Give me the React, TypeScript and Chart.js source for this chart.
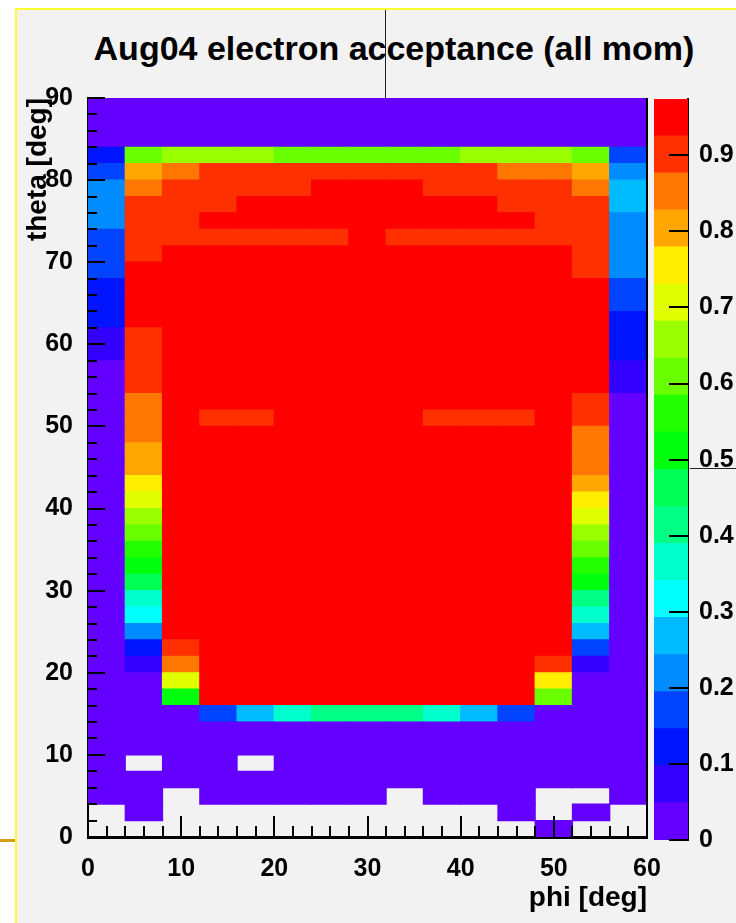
import { useEffect, useRef } from 'react';
import { Chart, registerables } from 'chart.js';

Chart.register(...registerables);

// ---- axes / binning ----
const phiCenters = [2, 6, 10, 14, 18, 22, 26, 30, 34, 38, 42, 46, 50, 54, 58];
const thetaBinWidth = 2;
const phiTickStep = 10;
const thetaTickStep = 10;
const zTickStep = 0.1;
const Z_MAX = 0.974;
const N_CONTOURS = 20;

// acceptance[r][c]: theta bin r (0-2, 2-4, ... 88-90), phi bin c (0-4 ... 56-60); 0 = empty bin
const acceptance: number[][] = [
  /* 0-2 */ [0, 0, 0, 0, 0, 0, 0, 0, 0, 0, 0, 0, 0.02, 0, 0],
  /* 2-4 */ [0, 0.02, 0, 0, 0, 0, 0, 0, 0, 0, 0, 0.02, 0, 0.02, 0],
  /* 4-6 */ [0.02, 0.02, 0, 0.02, 0.02, 0.02, 0.02, 0.02, 0, 0.02, 0.02, 0.02, 0, 0, 0.02],
  /* 6-8 */ [0.02, 0.02, 0.02, 0.02, 0.02, 0.02, 0.02, 0.02, 0.02, 0.02, 0.02, 0.02, 0.02, 0.02, 0.02],
  /* 8-10 */ [0.02, 0, 0.02, 0.02, 0, 0.02, 0.02, 0.02, 0.02, 0.02, 0.02, 0.02, 0.02, 0.02, 0.02],
  /* 10-12 */ [0.02, 0.02, 0.02, 0.02, 0.02, 0.02, 0.02, 0.02, 0.02, 0.02, 0.02, 0.02, 0.02, 0.02, 0.02],
  /* 12-14 */ [0.02, 0.02, 0.02, 0.02, 0.02, 0.02, 0.02, 0.02, 0.02, 0.02, 0.02, 0.02, 0.02, 0.02, 0.02],
  /* 14-16 */ [0.02, 0.02, 0.02, 0.17, 0.27, 0.37, 0.41, 0.41, 0.41, 0.37, 0.27, 0.17, 0.02, 0.02, 0.02],
  /* 16-18 */ [0.02, 0.02, 0.51, 0.95, 0.95, 0.95, 0.95, 0.95, 0.95, 0.95, 0.95, 0.95, 0.61, 0.02, 0.02],
  /* 18-20 */ [0.02, 0.02, 0.71, 0.95, 0.95, 0.95, 0.95, 0.95, 0.95, 0.95, 0.95, 0.95, 0.75, 0.02, 0.02],
  /* 20-22 */ [0.02, 0.07, 0.85, 0.95, 0.95, 0.95, 0.95, 0.95, 0.95, 0.95, 0.95, 0.95, 0.9, 0.07, 0.02],
  /* 22-24 */ [0.02, 0.12, 0.9, 0.95, 0.95, 0.95, 0.95, 0.95, 0.95, 0.95, 0.95, 0.95, 0.95, 0.17, 0.02],
  /* 24-26 */ [0.02, 0.22, 0.95, 0.95, 0.95, 0.95, 0.95, 0.95, 0.95, 0.95, 0.95, 0.95, 0.95, 0.27, 0.02],
  /* 26-28 */ [0.02, 0.32, 0.95, 0.95, 0.95, 0.95, 0.95, 0.95, 0.95, 0.95, 0.95, 0.95, 0.95, 0.37, 0.02],
  /* 28-30 */ [0.02, 0.37, 0.95, 0.95, 0.95, 0.95, 0.95, 0.95, 0.95, 0.95, 0.95, 0.95, 0.95, 0.41, 0.02],
  /* 30-32 */ [0.02, 0.46, 0.95, 0.95, 0.95, 0.95, 0.95, 0.95, 0.95, 0.95, 0.95, 0.95, 0.95, 0.51, 0.02],
  /* 32-34 */ [0.02, 0.51, 0.95, 0.95, 0.95, 0.95, 0.95, 0.95, 0.95, 0.95, 0.95, 0.95, 0.95, 0.55, 0.02],
  /* 34-36 */ [0.02, 0.55, 0.95, 0.95, 0.95, 0.95, 0.95, 0.95, 0.95, 0.95, 0.95, 0.95, 0.95, 0.61, 0.02],
  /* 36-38 */ [0.02, 0.61, 0.95, 0.95, 0.95, 0.95, 0.95, 0.95, 0.95, 0.95, 0.95, 0.95, 0.95, 0.66, 0.02],
  /* 38-40 */ [0.02, 0.66, 0.95, 0.95, 0.95, 0.95, 0.95, 0.95, 0.95, 0.95, 0.95, 0.95, 0.95, 0.71, 0.02],
  /* 40-42 */ [0.02, 0.71, 0.95, 0.95, 0.95, 0.95, 0.95, 0.95, 0.95, 0.95, 0.95, 0.95, 0.95, 0.75, 0.02],
  /* 42-44 */ [0.02, 0.75, 0.95, 0.95, 0.95, 0.95, 0.95, 0.95, 0.95, 0.95, 0.95, 0.95, 0.95, 0.8, 0.02],
  /* 44-46 */ [0.02, 0.8, 0.95, 0.95, 0.95, 0.95, 0.95, 0.95, 0.95, 0.95, 0.95, 0.95, 0.95, 0.85, 0.02],
  /* 46-48 */ [0.02, 0.8, 0.95, 0.95, 0.95, 0.95, 0.95, 0.95, 0.95, 0.95, 0.95, 0.95, 0.95, 0.85, 0.02],
  /* 48-50 */ [0.02, 0.85, 0.95, 0.95, 0.95, 0.95, 0.95, 0.95, 0.95, 0.95, 0.95, 0.95, 0.95, 0.85, 0.02],
  /* 50-52 */ [0.02, 0.85, 0.95, 0.9, 0.9, 0.95, 0.95, 0.95, 0.95, 0.9, 0.9, 0.9, 0.95, 0.9, 0.02],
  /* 52-54 */ [0.02, 0.85, 0.95, 0.95, 0.95, 0.95, 0.95, 0.95, 0.95, 0.95, 0.95, 0.95, 0.95, 0.9, 0.02],
  /* 54-56 */ [0.02, 0.9, 0.95, 0.95, 0.95, 0.95, 0.95, 0.95, 0.95, 0.95, 0.95, 0.95, 0.95, 0.95, 0.07],
  /* 56-58 */ [0.02, 0.9, 0.95, 0.95, 0.95, 0.95, 0.95, 0.95, 0.95, 0.95, 0.95, 0.95, 0.95, 0.95, 0.07],
  /* 58-60 */ [0.07, 0.9, 0.95, 0.95, 0.95, 0.95, 0.95, 0.95, 0.95, 0.95, 0.95, 0.95, 0.95, 0.95, 0.12],
  /* 60-62 */ [0.07, 0.9, 0.95, 0.95, 0.95, 0.95, 0.95, 0.95, 0.95, 0.95, 0.95, 0.95, 0.95, 0.95, 0.12],
  /* 62-64 */ [0.12, 0.95, 0.95, 0.95, 0.95, 0.95, 0.95, 0.95, 0.95, 0.95, 0.95, 0.95, 0.95, 0.95, 0.12],
  /* 64-66 */ [0.12, 0.95, 0.95, 0.95, 0.95, 0.95, 0.95, 0.95, 0.95, 0.95, 0.95, 0.95, 0.95, 0.95, 0.17],
  /* 66-68 */ [0.12, 0.95, 0.95, 0.95, 0.95, 0.95, 0.95, 0.95, 0.95, 0.95, 0.95, 0.95, 0.95, 0.95, 0.17],
  /* 68-70 */ [0.17, 0.95, 0.95, 0.95, 0.95, 0.95, 0.95, 0.95, 0.95, 0.95, 0.95, 0.95, 0.95, 0.9, 0.22],
  /* 70-72 */ [0.17, 0.9, 0.95, 0.95, 0.95, 0.95, 0.95, 0.95, 0.95, 0.95, 0.95, 0.95, 0.95, 0.9, 0.22],
  /* 72-74 */ [0.17, 0.9, 0.9, 0.9, 0.9, 0.9, 0.9, 0.95, 0.9, 0.9, 0.9, 0.9, 0.9, 0.9, 0.22],
  /* 74-76 */ [0.22, 0.9, 0.9, 0.95, 0.95, 0.95, 0.95, 0.95, 0.95, 0.95, 0.95, 0.95, 0.9, 0.9, 0.22],
  /* 76-78 */ [0.22, 0.9, 0.9, 0.9, 0.95, 0.95, 0.95, 0.95, 0.95, 0.95, 0.95, 0.9, 0.9, 0.9, 0.27],
  /* 78-80 */ [0.22, 0.85, 0.9, 0.9, 0.9, 0.9, 0.95, 0.95, 0.95, 0.9, 0.9, 0.9, 0.9, 0.85, 0.27],
  /* 80-82 */ [0.17, 0.8, 0.85, 0.9, 0.9, 0.9, 0.9, 0.9, 0.9, 0.9, 0.9, 0.85, 0.85, 0.8, 0.22],
  /* 82-84 */ [0.12, 0.61, 0.66, 0.66, 0.66, 0.61, 0.61, 0.61, 0.61, 0.61, 0.66, 0.66, 0.66, 0.61, 0.17],
  /* 84-86 */ [0.02, 0.02, 0.02, 0.02, 0.02, 0.02, 0.02, 0.02, 0.02, 0.02, 0.02, 0.02, 0.02, 0.02, 0.02],
  /* 86-88 */ [0.02, 0.02, 0.02, 0.02, 0.02, 0.02, 0.02, 0.02, 0.02, 0.02, 0.02, 0.02, 0.02, 0.02, 0.02],
  /* 88-90 */ [0.02, 0.02, 0.02, 0.02, 0.02, 0.02, 0.02, 0.02, 0.02, 0.02, 0.02, 0.02, 0.02, 0.02, 0.02],
];

// ---- ROOT "pretty" palette (colors 51-100) sampled for 20 contours ----
function hslToHex(h: number, s: number, l: number) {
  const a = s * Math.min(l, 1 - l);
  const f = (n: number) => {
    const k = (n + h / 30) % 12;
    const c = l - a * Math.max(-1, Math.min(k - 3, 9 - k, 1));
    return Math.round(255 * c).toString(16).padStart(2, '0');
  };
  return '#' + f(0) + f(8) + f(4);
}
const palette: string[] = [];
for (let j = 0; j < N_CONTOURS; j++) {
  const idx = Math.floor(((j + 0.99) * 50) / N_CONTOURS);
  const hue = 280 - (idx + 1) * 5.6;
  palette.push(hslToHex(hue, 1, 0.5));
}
const dz = Z_MAX / N_CONTOURS;
function colorFor(v: number) {
  let j = Math.floor(v / dz);
  if (j < 0) j = 0;
  if (j > N_CONTOURS - 1) j = N_CONTOURS - 1;
  return palette[j];
}

const FONT = '"Liberation Sans", Arial, Helvetica, sans-serif';

const mainTicks = {
  id: 'mainTicks',
  afterDraw(chart: any) {
    const { ctx, chartArea, scales } = chart;
    const xs = scales.x;
    const ys = scales.y;
    ctx.save();
    ctx.strokeStyle = '#000';
    ctx.lineWidth = 2;
    ctx.beginPath();
    for (let t = 0; t <= 90; t += thetaBinWidth) {
      const py = Math.round(ys.getPixelForValue(t));
      const len = t % thetaTickStep === 0 ? 17 : 9;
      ctx.moveTo(chartArea.left, py);
      ctx.lineTo(chartArea.left + len, py);
    }
    for (let p = 0; p <= 60; p += 2) {
      const px = Math.round(xs.getPixelForValue(p));
      const len = p % phiTickStep === 0 ? 21 : 11;
      ctx.moveTo(px, chartArea.bottom);
      ctx.lineTo(px, chartArea.bottom - len);
    }
    ctx.moveTo(chartArea.right, chartArea.top);
    ctx.lineTo(chartArea.right, chartArea.bottom);
    ctx.stroke();
    ctx.restore();
  },
};

const barTicks = {
  id: 'barTicks',
  afterDraw(chart: any) {
    const { ctx, chartArea, scales } = chart;
    const ys = scales.y;
    ctx.save();
    ctx.strokeStyle = '#000';
    ctx.lineWidth = 2;
    ctx.beginPath();
    for (let k = 0; k <= 9; k++) {
      const py = Math.round(ys.getPixelForValue(k * zTickStep));
      ctx.moveTo(chartArea.right - 19, py);
      ctx.lineTo(chartArea.right, py);
    }
    ctx.stroke();
    ctx.restore();
  },
};

export default function App() {
  const mainRef = useRef<HTMLCanvasElement>(null);
  const barRef = useRef<HTMLCanvasElement>(null);

  useEffect(() => {
    const tickFont = { family: FONT, size: 25, weight: 'bold' as const };
    const titleFont = { family: FONT, size: 28, weight: 'bold' as const };

    const datasets = acceptance.map((row, r) => {
      const pts = row
        .map((v, c) => ({ x: phiCenters[c], y: [r * thetaBinWidth, (r + 1) * thetaBinWidth], v }))
        .filter((p) => p.v > 0);
      return {
        data: pts,
        backgroundColor: pts.map((p) => colorFor(p.v)),
        grouped: false,
        barPercentage: 1,
        categoryPercentage: 1,
        borderWidth: 0,
        inflateAmount: 0.6,
      };
    });

    const main = new Chart(mainRef.current!, {
      type: 'bar',
      data: { datasets: datasets as any },
      options: {
        animation: false,
        responsive: false,
        devicePixelRatio: 1,
        layout: { padding: { top: 98, right: 89, bottom: 0, left: 0 } },
        plugins: { legend: { display: false }, tooltip: { enabled: false }, title: { display: false } },
        scales: {
          x: {
            type: 'linear',
            min: 0,
            max: 60,
            offset: false,
            z: 1,
            grid: { display: false },
            border: { display: true, color: '#000', width: 3 },
            ticks: { stepSize: phiTickStep, color: '#000', font: tickFont, padding: 9, maxRotation: 0 },
            title: { display: true, text: 'phi [deg]', align: 'end', color: '#000', font: titleFont, padding: { top: 0, bottom: 8 } },
            afterFit: (s: any) => { s.height = 86; },
          },
          y: {
            type: 'linear',
            min: 0,
            max: 90,
            z: 1,
            grid: { display: false },
            border: { display: true, color: '#000', width: 2 },
            ticks: { stepSize: thetaTickStep, color: '#000', font: tickFont, padding: 7 },
            title: { display: true, text: 'theta [deg]', align: 'end', color: '#000', font: titleFont, padding: { top: 21, bottom: 0 } },
            afterFit: (s: any) => { s.width = 88; },
          },
        },
      } as any,
      plugins: [mainTicks],
    });

    const barSets = palette.map((col, k) => ({
      data: [[k * dz, (k + 1) * dz]],
      backgroundColor: col,
      grouped: false,
      barPercentage: 1,
      categoryPercentage: 1,
      borderWidth: 0,
      inflateAmount: 0.6,
    }));

    const bar = new Chart(barRef.current!, {
      type: 'bar',
      data: { labels: [''], datasets: barSets as any },
      options: {
        animation: false,
        responsive: false,
        devicePixelRatio: 1,
        layout: { padding: { top: 99, right: 0, bottom: 83, left: 654 } },
        plugins: { legend: { display: false }, tooltip: { enabled: false } },
        scales: {
          x: { display: false },
          y: {
            position: 'right',
            min: 0,
            max: Z_MAX,
            z: 1,
            grid: { display: false },
            border: { display: true, color: '#000', width: 2 },
            ticks: {
              stepSize: zTickStep,
              includeBounds: false,
              color: '#000',
              font: tickFont,
              padding: 3,
              callback: (v: any) => (Number(v) === 0 ? '0' : Number(v).toFixed(1)),
            },
            afterFit: (s: any) => { s.width = 48; },
          },
        },
      } as any,
      plugins: [barTicks],
    });

    return () => {
      main.destroy();
      bar.destroy();
    };
  }, []);

  return (
    <div style={{ position: 'absolute', left: 0, top: 0, width: 736, height: 923, background: '#ffffff', overflow: 'hidden' }}>
      <div style={{ position: 'absolute', left: 17, top: 10, width: 719, height: 913, background: '#f2f2f2' }} />
      <div style={{ position: 'absolute', left: 15, top: 8, width: 2, height: 915, background: '#ffff33' }} />
      <div style={{ position: 'absolute', left: 15, top: 8, width: 721, height: 2, background: '#ffff33' }} />
      <div style={{ position: 'absolute', left: 0, top: 839, width: 15, height: 3, background: '#d4a017' }} />
      <div style={{ position: 'absolute', left: 385, top: 10, width: 1, height: 88, background: '#222' }} />
      <div style={{ position: 'absolute', left: 690, top: 468, width: 46, height: 1, background: '#222' }} />
      <div
        style={{
          position: 'absolute',
          left: 394,
          top: 28,
          transform: 'translateX(-50%)',
          whiteSpace: 'nowrap',
          fontFamily: FONT,
          fontWeight: 'bold',
          fontSize: 34,
          lineHeight: '40px',
          color: '#000',
        }}
      >
        Aug04 electron acceptance (all mom)
      </div>
      <canvas ref={mainRef} width={736} height={923} style={{ position: 'absolute', left: 0, top: 0, width: 736, height: 923 }} />
      <canvas ref={barRef} width={736} height={923} style={{ position: 'absolute', left: 0, top: 0, width: 736, height: 923 }} />
    </div>
  );
}
